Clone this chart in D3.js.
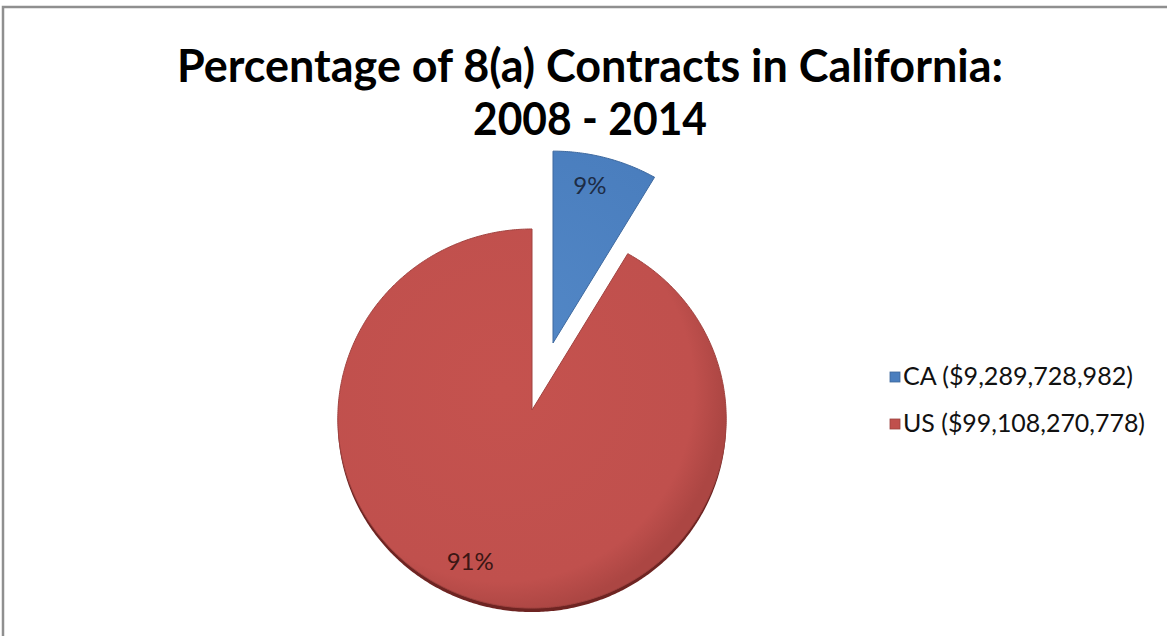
<!DOCTYPE html>
<html>
<head>
<meta charset="utf-8">
<script src="https://cdn.jsdelivr.net/npm/d3@7"></script>
<style>
  html, body { margin: 0; padding: 0; background: #ffffff; }
  svg { display: block; }
</style>
</head>
<body>
<svg id="chart" width="1167" height="636"></svg>
<script>
// ---- data ----
const categories = ["CA", "US"];
const amounts = [9289728982, 99108270778];
const percentLabels = ["9%", "91%"];
const legendLabels = ["CA ($9,289,728,982)", "US ($99,108,270,778)"];
const titleLines = ["Percentage of 8(a) Contracts in California:", "2008 - 2014"];
const sliceColors = ["#4A7EBE", "#C0504D"];
const exploded = [true, false];

// ---- layout ----
const W = 1167, H = 636;
const svg = d3.select("#chart");

// chart frame
svg.append("rect").attr("x", 0).attr("y", 0).attr("width", W).attr("height", H).attr("fill", "#ffffff");
svg.append("rect")
  .attr("x", 3).attr("y", 7).attr("width", W + 20).attr("height", H + 20)
  .attr("fill", "none").attr("stroke", "#8f8f8f").attr("stroke-width", 2.5);

// title
const title = svg.append("g")
  .attr("font-family", "Lato, 'Open Sans', sans-serif")
  .attr("font-weight", "bold")
  .attr("fill", "#000000")
  .attr("text-anchor", "middle");
const titleY = [82, 135];
const titleW = [826, 234];
titleLines.forEach((t, i) => {
  title.append("text")
    .attr("x", 590).attr("y", titleY[i])
    .attr("font-size", 46)
    .attr("textLength", titleW[i])
    .attr("lengthAdjust", "spacingAndGlyphs")
    .text(t);
});

// ---- pie with a slight perspective tilt ----
const cx = 532, cy = 410;      // projected pie centre
const S = 194, q = 0.975, p = 0.045;
function project(theta, r) {
  const u = r * Math.sin(theta), v = -r * Math.cos(theta);
  const w = 1 - p * v;
  return [cx + S * u / w, cy + S * q * v / w];
}

const pie = d3.pie().sort(null).value(d => d)(amounts);

// exploded slice is pulled out along its bisector and drawn slightly nearer
const explodeApex = [553, 343];
const explodeScale = 1.06;
function place(pt, i) {
  if (!exploded[i]) return pt;
  return [explodeApex[0] + explodeScale * (pt[0] - cx),
          explodeApex[1] + explodeScale * (pt[1] - cy)];
}

function slicePoints(a, i) {
  const pts = [place([cx, cy], i)];
  const n = Math.max(8, Math.ceil((a.endAngle - a.startAngle) / 0.01));
  for (let k = 0; k <= n; k++) {
    const t = a.startAngle + (a.endAngle - a.startAngle) * k / n;
    pts.push(place(project(t, 1), i));
  }
  return pts;
}
const line = d3.line().curve(d3.curveLinearClosed);

const defs = svg.append("defs");
const gradStops = [
  [["0%", "#5287C6"], ["80%", "#4A7EBE"], ["100%", "#3E6DA8"]],
  [["0%", "#C5524E"], ["86%", "#C0504D"], ["100%", "#AC4643"]]
];
pie.forEach((a, i) => {
  const c = place([cx, cy], i);
  const g = defs.append("radialGradient")
    .attr("id", "face" + i)
    .attr("gradientUnits", "userSpaceOnUse")
    .attr("cx", c[0] - 30).attr("cy", c[1] - 20)
    .attr("r", S * (exploded[i] ? explodeScale : 1) * 1.15);
  gradStops[i].forEach(s => g.append("stop").attr("offset", s[0]).attr("stop-color", s[1]));
});

const pieG = svg.append("g");
const depth = 4;
// side of the pie (visible along the near rim)
pie.forEach((a, i) => {
  if (exploded[i]) return;
  pieG.append("path")
    .attr("d", line(slicePoints(a, i)))
    .attr("transform", `translate(0,${depth})`)
    .attr("fill", "#6E2422");
});
// top faces
pie.forEach((a, i) => {
  pieG.append("path")
    .attr("d", line(slicePoints(a, i)))
    .attr("fill", `url(#face${i})`)
    .attr("stroke", d3.color(sliceColors[i]).darker(0.5))
    .attr("stroke-width", 1)
    .attr("stroke-linejoin", "round");
});

// percentage labels
const labelR = [0.85, 0.8];
const labelNudge = [[-8, 3], [-19, 3]];
const labelFill = ["#1D2C45", "#3A1614"];
pie.forEach((a, i) => {
  const mid = (a.startAngle + a.endAngle) / 2;
  const pt = place(project(mid, labelR[i]), i);
  svg.append("text")
    .attr("x", pt[0] + labelNudge[i][0])
    .attr("y", pt[1] + labelNudge[i][1])
    .attr("text-anchor", "middle")
    .attr("dominant-baseline", "middle")
    .attr("font-family", "Lato, 'Open Sans', sans-serif")
    .attr("font-size", 24)
    .attr("fill", labelFill[i])
    .text(percentLabels[i]);
});

// legend
const legend = svg.append("g").attr("font-family", "Lato, 'Open Sans', sans-serif");
const legendY = d3.scalePoint().domain(categories).range([377, 424]);
const legendW = [230, 242];
categories.forEach((c, i) => {
  const y = legendY(c);
  legend.append("rect")
    .attr("x", 890).attr("y", y - 5).attr("width", 10).attr("height", 10)
    .attr("fill", sliceColors[i])
    .attr("stroke", d3.color(sliceColors[i]).darker(0.6)).attr("stroke-width", 0.8);
  legend.append("text")
    .attr("x", 903).attr("y", y + 8)
    .attr("font-size", 25)
    .attr("fill", "#111111")
    .attr("textLength", legendW[i])
    .attr("lengthAdjust", "spacingAndGlyphs")
    .text(legendLabels[i]);
});
</script>
</body>
</html>
